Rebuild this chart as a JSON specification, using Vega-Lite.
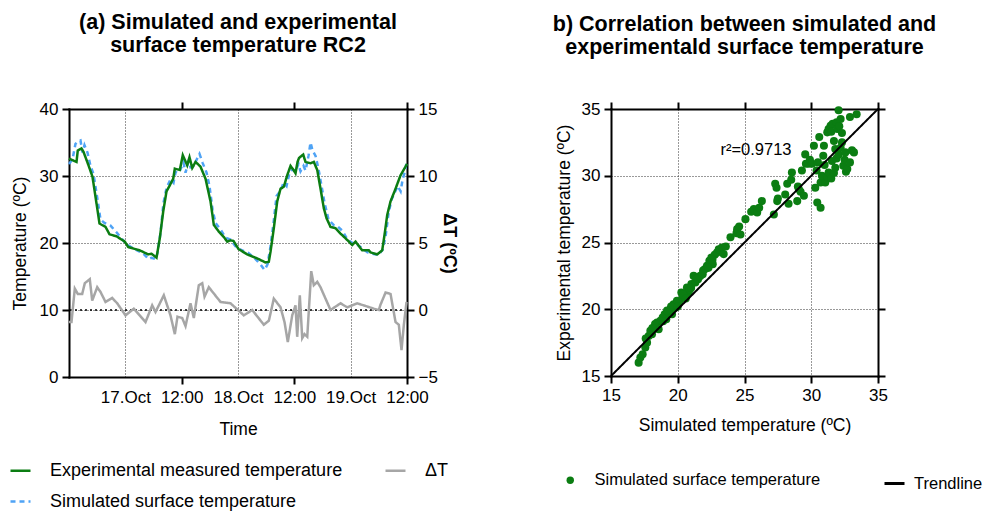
{
  "$schema": "https://vega.github.io/schema/vega-lite/v6.json",
  "background": "white",
  "padding": {"left": 9, "top": 11, "right": 5, "bottom": 5},
  "bounds": "flush",
  "spacing": 204,
  "config": {
    "font": "Liberation Sans",
    "view": {"stroke": null},
    "title": {"fontSize": 21.5, "fontWeight": "bold", "color": "black", "lineHeight": 23, "anchor": "middle"},
    "axis": {
      "labelFontSize": 17, "titleFontSize": 17.5, "titleFontWeight": "normal",
      "labelColor": "black", "titleColor": "black",
      "domainColor": "black", "domainWidth": 2, "domainCap": "square",
      "tickColor": "black", "tickWidth": 2, "tickSize": 7,
      "labelPadding": 4, "grid": false, "labelOverlap": false, "labelBound": false, "labelFlush": false
    },
    "legend": {"labelFontSize": 16.5, "labelColor": "black", "labelLimit": 400}
  },
  "resolve": {"scale": {"color": "independent", "strokeDash": "independent"}},
  "hconcat": [
    {
      "width": 338,
      "height": 268,
      "title": {"text": ["(a) Simulated and experimental", "surface temperature RC2"], "offset": 44},
      "layer": [
        {
          "layer": [
            {
              "data": {"values": [
                {"h":0,"v":31.8},{"h":0.75,"v":32.5},{"h":1.38,"v":34.8},{"h":2.02,"v":35.2},{"h":2.45,"v":35.3},{"h":2.88,"v":33.5},{"h":3.3,"v":34.6},{"h":3.94,"v":33.5},{"h":4.58,"v":31.5},{"h":5.22,"v":30.3},{"h":6.07,"v":26.5},{"h":6.71,"v":23.5},{"h":7.56,"v":23.0},{"h":8.84,"v":22.6},{"h":10.12,"v":21.6},{"h":11.4,"v":20.5},{"h":12.25,"v":19.8},{"h":14.18,"v":19.0},{"h":15.87,"v":18.4},{"h":16.94,"v":17.6},{"h":17.58,"v":17.8},{"h":18.43,"v":17.6},{"h":18.85,"v":18.5},{"h":19.49,"v":21.5},{"h":20.13,"v":26.0},{"h":20.77,"v":28.2},{"h":21.62,"v":29.5},{"h":22.26,"v":29.0},{"h":22.69,"v":30.5},{"h":23.33,"v":31.2},{"h":23.75,"v":31.0},{"h":24.39,"v":32.0},{"h":24.82,"v":30.5},{"h":25.46,"v":32.2},{"h":25.88,"v":31.3},{"h":26.52,"v":31.5},{"h":27.38,"v":32.7},{"h":27.8,"v":33.3},{"h":28.44,"v":32.0},{"h":29.3,"v":30.5},{"h":29.93,"v":28.5},{"h":30.57,"v":25.0},{"h":31.21,"v":23.0},{"h":32.28,"v":22.0},{"h":33.34,"v":20.8},{"h":34.41,"v":20.5},{"h":35.47,"v":19.5},{"h":36.54,"v":19.0},{"h":38.24,"v":18.5},{"h":39.73,"v":17.6},{"h":40.8,"v":16.8},{"h":41.65,"v":16.0},{"h":42.29,"v":16.8},{"h":42.93,"v":19.5},{"h":43.57,"v":23.0},{"h":44.21,"v":27.0},{"h":45.06,"v":27.8},{"h":45.7,"v":29.0},{"h":46.34,"v":28.5},{"h":46.98,"v":30.5},{"h":47.62,"v":31.0},{"h":48.25,"v":30.7},{"h":48.89,"v":31.8},{"h":49.32,"v":30.7},{"h":49.96,"v":31.5},{"h":50.38,"v":30.8},{"h":51.02,"v":33.0},{"h":51.45,"v":35.0},{"h":51.88,"v":33.8},{"h":52.52,"v":33.0},{"h":53.16,"v":31.0},{"h":53.8,"v":28.5},{"h":54.43,"v":26.0},{"h":55.29,"v":23.5},{"h":56.35,"v":22.7},{"h":57.2,"v":22.5},{"h":58.27,"v":21.8},{"h":59.34,"v":20.5},{"h":60.4,"v":20.0},{"h":61.47,"v":19.7},{"h":62.54,"v":19.2},{"h":63.6,"v":18.6},{"h":64.67,"v":18.4},{"h":65.95,"v":18.2},{"h":66.8,"v":19.0},{"h":67.44,"v":21.0},{"h":68.08,"v":24.5},{"h":68.72,"v":26.5},{"h":69.36,"v":27.5},{"h":70.0,"v":28.5},{"h":70.64,"v":27.7},{"h":71.07,"v":29.5},{"h":71.49,"v":30.5},{"h":72,"v":32.3}
              ]},
              "mark": {"type": "line", "strokeWidth": 2.5},
              "encoding": {
                "x": {"field": "h", "type": "quantitative", "scale": {"domain": [0, 72], "nice": false},
                  "axis": {"orient": "bottom", "values": [12, 24, 36, 48, 60, 72],
                    "labelExpr": "datum.value == 12 ? '17.Oct' : datum.value == 36 ? '18.Oct' : datum.value == 60 ? '19.Oct' : '12:00'",
                    "title": "Time", "titlePadding": 15, "labelPadding": 5,
                    "grid": true, "gridDash": [1, 2], "gridColor": "#333333", "gridWidth": 1,
                    "gridOpacity": {"condition": {"test": "datum.value % 24 == 12", "value": 1}, "value": 0},
                    "tickOpacity": {"condition": {"test": "datum.value % 24 == 0", "value": 1}, "value": 0}}},
                "y": {"field": "v", "type": "quantitative", "scale": {"domain": [0, 40], "nice": false},
                  "axis": {"values": [0, 10, 20, 30, 40], "title": "Temperature (ºC)", "titlePadding": 10,
                    "grid": true, "gridDash": [1, 2], "gridColor": "#333333", "gridWidth": 1}},
                "color": {"datum": "Simulated surface temperature", "type": "nominal",
                  "scale": {"domain": ["Experimental measured temperature", "ΔT", "Simulated surface temperature"], "range": ["#0b7d12", "#a6a6a6", "#4fa3f5"]},
                  "legend": {"orient": "none", "direction": "horizontal", "legendX": -60, "legendY": 350, "columns": 2, "title": null, "symbolType": "stroke", "symbolSize": 400, "symbolStrokeWidth": 2.5, "labelOffset": 18, "labelFontSize": 18, "columnPadding": 37, "rowPadding": 10}},
                "strokeDash": {"datum": "Simulated surface temperature", "type": "nominal",
                  "scale": {"domain": ["Experimental measured temperature", "ΔT", "Simulated surface temperature"], "range": [[1, 0], [1, 0], [5, 4]]},
                  "legend": {"orient": "none", "direction": "horizontal", "legendX": -60, "legendY": 350, "columns": 2, "title": null, "symbolType": "stroke", "symbolSize": 400, "symbolStrokeWidth": 2.5, "labelOffset": 18, "labelFontSize": 18, "columnPadding": 37, "rowPadding": 10}}
              }
            },
            {
              "data": {"values": [
                {"h":0,"v":32.6},{"h":1.6,"v":32.1},{"h":1.87,"v":33.8},{"h":2.66,"v":34.1},{"h":3.09,"v":33.6},{"h":4.15,"v":31.6},{"h":5.0,"v":29.9},{"h":5.86,"v":25.9},{"h":6.5,"v":22.9},{"h":7.78,"v":22.4},{"h":8.63,"v":21.3},{"h":10.12,"v":21.0},{"h":11.89,"v":20.2},{"h":12.61,"v":19.4},{"h":15.08,"v":18.9},{"h":16.87,"v":18.3},{"h":17.58,"v":18.4},{"h":18.64,"v":17.8},{"h":19.34,"v":20.7},{"h":20.07,"v":24.7},{"h":20.77,"v":27.7},{"h":21.47,"v":28.6},{"h":22.2,"v":29.6},{"h":22.54,"v":31.1},{"h":23.6,"v":30.9},{"h":24.24,"v":33.1},{"h":25.18,"v":31.6},{"h":25.67,"v":32.8},{"h":26.25,"v":31.2},{"h":26.95,"v":32.1},{"h":28.01,"v":31.4},{"h":29.08,"v":29.6},{"h":30.15,"v":26.2},{"h":30.85,"v":22.7},{"h":31.91,"v":21.7},{"h":32.98,"v":20.9},{"h":33.7,"v":20.2},{"h":34.41,"v":20.4},{"h":35.05,"v":20.3},{"h":36.11,"v":19.1},{"h":37.96,"v":18.3},{"h":40.09,"v":17.7},{"h":41.86,"v":17.1},{"h":42.56,"v":17.2},{"h":42.93,"v":18.7},{"h":43.63,"v":22.2},{"h":44.35,"v":26.2},{"h":45.06,"v":28.1},{"h":45.76,"v":28.4},{"h":46.48,"v":30.1},{"h":47.19,"v":31.5},{"h":47.83,"v":30.9},{"h":48.25,"v":30.4},{"h":48.68,"v":32.1},{"h":49.0,"v":32.7},{"h":49.89,"v":33.2},{"h":50.38,"v":32.1},{"h":51.45,"v":31.9},{"h":52.15,"v":32.1},{"h":52.88,"v":30.9},{"h":53.58,"v":28.1},{"h":54.28,"v":25.2},{"h":54.86,"v":23.7},{"h":55.71,"v":22.4},{"h":56.78,"v":22.2},{"h":57.84,"v":21.4},{"h":58.91,"v":20.7},{"h":60.33,"v":19.7},{"h":61.04,"v":20.2},{"h":62.46,"v":18.9},{"h":63.87,"v":18.9},{"h":64.23,"v":18.6},{"h":65.66,"v":18.3},{"h":66.72,"v":18.9},{"h":67.21,"v":21.2},{"h":67.79,"v":24.2},{"h":68.49,"v":26.2},{"h":69.56,"v":28.1},{"h":70.62,"v":30.1},{"h":71.69,"v":31.4},{"h":72,"v":31.8}
              ]},
              "mark": {"type": "line", "strokeWidth": 2.5},
              "encoding": {
                "x": {"field": "h", "type": "quantitative"},
                "y": {"field": "v", "type": "quantitative"},
                "color": {"datum": "Experimental measured temperature", "type": "nominal",
                  "scale": {"domain": ["Experimental measured temperature", "ΔT", "Simulated surface temperature"], "range": ["#0b7d12", "#a6a6a6", "#4fa3f5"]}},
                "strokeDash": {"datum": "Experimental measured temperature", "type": "nominal",
                  "scale": {"domain": ["Experimental measured temperature", "ΔT", "Simulated surface temperature"], "range": [[1, 0], [1, 0], [5, 4]]}}
              }
            },
            {
              "data": {"values": [{"ref": "zero line"}]},
              "mark": {"type": "rule", "color": "black", "strokeWidth": 1.5, "strokeDash": [2, 3]},
              "encoding": {"y": {"datum": 10, "type": "quantitative"}}
            }
          ]
        },
        {
          "layer": [
            {
              "data": {"values": [
                {"h":0,"d":-0.9},{"h":0.53,"d":-0.9},{"h":1.24,"d":1.6},{"h":1.87,"d":1.2},{"h":2.81,"d":1.2},{"h":3.37,"d":2.0},{"h":4.43,"d":2.3},{"h":4.94,"d":0.7},{"h":6.01,"d":1.7},{"h":6.71,"d":1.35},{"h":7.78,"d":0.6},{"h":9.2,"d":0.9},{"h":10.27,"d":0.5},{"h":12.04,"d":-0.4},{"h":13.8,"d":0.1},{"h":16.3,"d":-0.9},{"h":17.72,"d":0.35},{"h":18.43,"d":-0.15},{"h":20.2,"d":1.1},{"h":21.62,"d":-0.4},{"h":22.54,"d":-1.8},{"h":23.11,"d":-0.5},{"h":24.12,"d":-0.6},{"h":24.82,"d":-1.2},{"h":25.88,"d":0.5},{"h":26.59,"d":-0.6},{"h":27.65,"d":1.85},{"h":28.38,"d":2.0},{"h":28.87,"d":1.0},{"h":29.78,"d":1.7},{"h":32.28,"d":0.6},{"h":34.41,"d":0.5},{"h":37.24,"d":-0.4},{"h":39.03,"d":0},{"h":41.5,"d":-1.1},{"h":42.57,"d":-0.8},{"h":43.63,"d":0.85},{"h":45.06,"d":0.2},{"h":45.91,"d":-0.9},{"h":46.61,"d":-2.4},{"h":47.55,"d":-0.4},{"h":48.25,"d":0.35},{"h":48.61,"d":-2.0},{"h":49.17,"d":1.1},{"h":49.68,"d":-2.1},{"h":50.17,"d":-1.8},{"h":50.75,"d":-2.0},{"h":51.6,"d":2.9},{"h":52.15,"d":1.85},{"h":52.88,"d":2.1},{"h":53.58,"d":1.7},{"h":55.71,"d":0},{"h":57.84,"d":0.5},{"h":59.27,"d":0.2},{"h":61.4,"d":0.5},{"h":64.93,"d":0.1},{"h":66.0,"d":0},{"h":66.36,"d":0.4},{"h":67.43,"d":1.3},{"h":68.49,"d":1.2},{"h":69.56,"d":-0.9},{"h":70.26,"d":-1.1},{"h":70.83,"d":-3.0},{"h":71.33,"d":-1.1},{"h":71.9,"d":0.6}
              ]},
              "mark": {"type": "line", "strokeWidth": 2.5},
              "encoding": {
                "x": {"field": "h", "type": "quantitative", "scale": {"domain": [0, 72], "nice": false},
                  "axis": {"orient": "top", "values": [24, 48, 72], "labels": false, "title": null, "grid": false}},
                "y": {"field": "d", "type": "quantitative", "scale": {"domain": [-5, 15], "nice": false},
                  "axis": {"orient": "right", "values": [-5, 0, 5, 10, 15], "title": "ΔT (ºC)", "titleFontWeight": "bold", "titleFontSize": 18, "titlePadding": 2, "grid": false}},
                "color": {"datum": "ΔT", "type": "nominal",
                  "scale": {"domain": ["Experimental measured temperature", "ΔT", "Simulated surface temperature"], "range": ["#0b7d12", "#a6a6a6", "#4fa3f5"]}},
                "strokeDash": {"datum": "ΔT", "type": "nominal",
                  "scale": {"domain": ["Experimental measured temperature", "ΔT", "Simulated surface temperature"], "range": [[1, 0], [1, 0], [5, 4]]}}
              }
            }
          ]
        }
      ],
      "resolve": {"scale": {"y": "independent"}, "axis": {"x": "independent", "y": "independent"}}
    },
    {
      "width": 267,
      "height": 267,
      "title": {"text": ["b) Correlation between simulated and", "experimentald surface temperature"], "offset": 42},
      "layer": [
        {
          "data": {"values": [
            {"sim":17.07,"exp":16.0},{"sim":17.2,"exp":16.38},{"sim":17.37,"exp":16.63},{"sim":17.57,"exp":17.13},{"sim":17.7,"exp":17.5},{"sim":17.82,"exp":18.0},{"sim":17.95,"exp":18.38},{"sim":18.07,"exp":18.13},{"sim":18.27,"exp":18.63},{"sim":18.45,"exp":19.0},{"sim":18.57,"exp":18.5},{"sim":18.7,"exp":19.13},{"sim":18.87,"exp":19.38},{"sim":19.02,"exp":19.63},{"sim":19.14,"exp":19.25},{"sim":19.32,"exp":19.75},{"sim":19.44,"exp":20.0},{"sim":19.57,"exp":19.63},{"sim":19.69,"exp":20.38},{"sim":19.82,"exp":20.13},{"sim":19.94,"exp":20.63},{"sim":20.12,"exp":20.5},{"sim":20.27,"exp":21.25},{"sim":20.37,"exp":20.88},{"sim":20.57,"exp":21.13},{"sim":20.69,"exp":21.63},{"sim":20.82,"exp":21.25},{"sim":21.02,"exp":21.88},{"sim":21.19,"exp":22.5},{"sim":21.32,"exp":22.0},{"sim":21.52,"exp":22.25},{"sim":21.69,"exp":22.5},{"sim":21.87,"exp":22.63},{"sim":22.02,"exp":23.0},{"sim":22.19,"exp":23.25},{"sim":22.37,"exp":23.63},{"sim":22.52,"exp":23.88},{"sim":22.62,"exp":23.38},{"sim":22.77,"exp":24.08},{"sim":22.94,"exp":24.25},{"sim":23.07,"exp":24.5},{"sim":23.31,"exp":24.63},{"sim":23.44,"exp":24.13},
            {"sim":18.3,"exp":18.9},{"sim":18.9,"exp":19.1},{"sim":19.5,"exp":20.2},{"sim":20.0,"exp":20.2},{"sim":20.4,"exp":21.1},{"sim":20.9,"exp":21.5},{"sim":21.4,"exp":22.3},{"sim":21.9,"exp":22.9},{"sim":22.3,"exp":23.1},{"sim":19.2,"exp":19.9},{"sim":18.1,"exp":18.6},{"sim":17.6,"exp":17.8},{"sim":20.6,"exp":20.8},{"sim":21.0,"exp":21.6},{"sim":22.6,"exp":23.7},
            {"sim":23.6,"exp":24.7},{"sim":23.95,"exp":25.4},{"sim":24.4,"exp":25.7},{"sim":24.45,"exp":26.0},{"sim":24.6,"exp":26.2},{"sim":24.7,"exp":25.6},{"sim":25.07,"exp":26.75},{"sim":25.5,"exp":27.3},{"sim":25.7,"exp":27.5},{"sim":25.95,"exp":27.25},{"sim":26.1,"exp":27.6},{"sim":26.3,"exp":28.1},{"sim":27.2,"exp":27.1},{"sim":27.3,"exp":29.4},{"sim":27.4,"exp":29.1},{"sim":27.45,"exp":28.1},{"sim":27.5,"exp":28.3},{"sim":28.05,"exp":28.6},{"sim":28.2,"exp":29.4},{"sim":28.3,"exp":27.9},{"sim":28.5,"exp":29.7},{"sim":28.55,"exp":30.25},{"sim":28.95,"exp":28.1},{"sim":29.0,"exp":29.2},{"sim":29.07,"exp":29.0},{"sim":29.2,"exp":28.8},{"sim":29.3,"exp":30.4},{"sim":29.45,"exp":28.5},{"sim":29.55,"exp":31.6},{"sim":29.6,"exp":30.9},{"sim":29.8,"exp":30.9},{"sim":29.9,"exp":31.2},{"sim":30.05,"exp":30.9},{"sim":30.2,"exp":32.25},{"sim":30.3,"exp":29.1},{"sim":30.4,"exp":30.4},{"sim":30.45,"exp":28.0},{"sim":30.5,"exp":31.0},{"sim":30.6,"exp":32.9},{"sim":30.7,"exp":27.6},{"sim":30.7,"exp":29.5},{"sim":30.8,"exp":30.0},{"sim":30.9,"exp":31.5},{"sim":30.95,"exp":32.25},{"sim":31.0,"exp":30.8},{"sim":31.05,"exp":29.5},{"sim":31.2,"exp":33.25},{"sim":31.2,"exp":29.9},{"sim":31.3,"exp":30.25},{"sim":31.3,"exp":33.5},{"sim":31.45,"exp":33.75},{"sim":31.5,"exp":33.3},{"sim":31.5,"exp":29.8},{"sim":31.55,"exp":31.1},{"sim":31.6,"exp":33.9},{"sim":31.7,"exp":32.6},{"sim":31.7,"exp":30.2},{"sim":31.8,"exp":30.6},{"sim":31.8,"exp":32.0},{"sim":31.9,"exp":34.0},{"sim":31.9,"exp":31.3},{"sim":31.95,"exp":33.5},{"sim":32.05,"exp":31.6},{"sim":32.05,"exp":34.9},{"sim":32.1,"exp":33.7},{"sim":32.2,"exp":34.25},{"sim":32.2,"exp":32.1},{"sim":32.3,"exp":32.5},{"sim":32.3,"exp":33.2},{"sim":32.4,"exp":30.75},{"sim":32.5,"exp":31.2},{"sim":32.55,"exp":31.75},{"sim":32.6,"exp":30.3},{"sim":32.7,"exp":30.5},{"sim":32.9,"exp":31.0},{"sim":32.9,"exp":34.4},{"sim":33.05,"exp":31.9},{"sim":33.2,"exp":31.75},{"sim":33.4,"exp":34.6}
          ]},
          "mark": {"type": "point", "filled": true, "size": 65, "opacity": 1},
          "encoding": {
            "x": {"field": "sim", "type": "quantitative", "scale": {"domain": [15, 35], "nice": false},
              "axis": {"orient": "bottom", "values": [15, 20, 25, 30, 35], "title": "Simulated temperature (ºC)", "titlePadding": 13,
                "grid": true, "gridDash": [1, 2], "gridColor": "#333333", "gridWidth": 1}},
            "y": {"field": "exp", "type": "quantitative", "scale": {"domain": [15, 35], "nice": false},
              "axis": {"orient": "left", "values": [15, 20, 25, 30, 35], "title": "Experimental temperature (ºC)", "titlePadding": 8,
                "grid": true, "gridDash": [1, 2], "gridColor": "#333333", "gridWidth": 1}},
            "color": {"datum": "Simulated surface temperature", "type": "nominal",
              "scale": {"range": ["#0b7d12"]},
              "legend": {"orient": "none", "legendX": -49, "legendY": 363, "title": null, "symbolType": "circle", "symbolSize": 55, "labelOffset": 16}}
          }
        },
        {
          "data": {"values": [{"sim": 15, "exp": 15}, {"sim": 35, "exp": 35}]},
          "mark": {"type": "line", "color": "black", "strokeWidth": 2},
          "encoding": {
            "x": {"field": "sim", "type": "quantitative", "axis": {"orient": "top", "values": [15, 20, 25, 30, 35], "labels": false, "title": null, "grid": false}},
            "y": {"field": "exp", "type": "quantitative", "axis": {"orient": "right", "values": [15, 20, 25, 30, 35], "labels": false, "title": null, "grid": false}},
            "strokeDash": {"datum": "Trendline", "type": "nominal", "scale": {"range": [[1, 0]]},
              "legend": {"orient": "none", "legendX": 272, "legendY": 363, "title": null, "symbolType": "stroke", "symbolSize": 400, "symbolStrokeWidth": 3, "symbolStrokeColor": "black", "labelOffset": 8}}
          }
        },
        {
          "data": {"values": [{"sim": 25.86, "exp": 31.9, "label": "r²=0.9713"}]},
          "mark": {"type": "text", "fontSize": 16.5, "color": "black"},
          "encoding": {
            "x": {"field": "sim", "type": "quantitative", "axis": null},
            "y": {"field": "exp", "type": "quantitative", "axis": null},
            "text": {"field": "label"}
          }
        }
      ],
      "resolve": {"axis": {"x": "independent", "y": "independent"}}
    }
  ]
}
